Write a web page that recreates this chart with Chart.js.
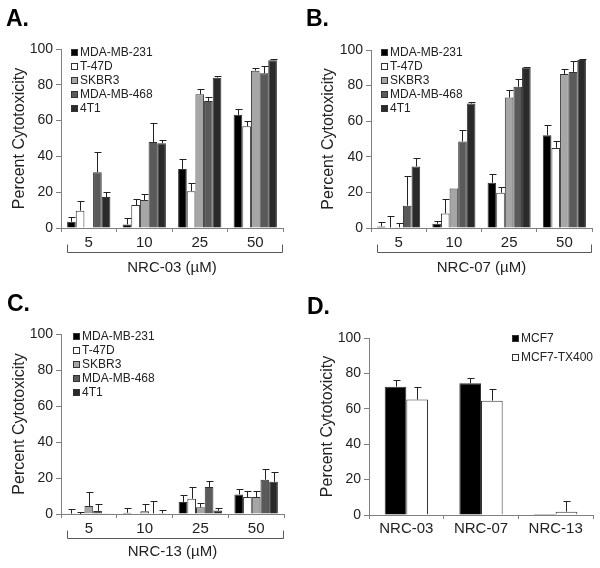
<!DOCTYPE html>
<html>
<head>
<meta charset="utf-8">
<script src="https://cdn.jsdelivr.net/npm/chart.js@4.4.1/dist/chart.umd.min.js"></script>
<style>
body { margin: 0; background: #fff; }
#wrap { position: relative; width: 600px; height: 568px; }
canvas { position: absolute; }
.tag { position: absolute; font: bold 23px "Liberation Sans", Arial, sans-serif; line-height: 1; color: #000; }
</style>
</head>
<body>
<div id="wrap">
  <canvas id="chartA" width="300" height="284" style="left:0;top:0"></canvas>
  <canvas id="chartB" width="300" height="284" style="left:300px;top:0"></canvas>
  <canvas id="chartC" width="300" height="284" style="left:0;top:284px"></canvas>
  <canvas id="chartD" width="300" height="284" style="left:300px;top:284px"></canvas>
  <div class="tag" style="left:6px;top:7px">A.</div>
  <div class="tag" style="left:306px;top:7px">B.</div>
  <div class="tag" style="left:7px;top:292px">C.</div>
  <div class="tag" style="left:307px;top:295px">D.</div>
</div>
<script>
const doses = ['5', '10', '25', '50'];
const cellLines = ['MDA-MB-231', 'T-47D', 'SKBR3', 'MDA-MB-468', '4T1'];
const lineColors = ['#000000', '#ffffff', '#a6a6a6', '#5a5a5a', '#2a2a2a'];
const yTicks = [0, 20, 40, 60, 80, 100];

// one row per cell line, one value per dose
const nrc03Mean = [
  [3.5, 2, 33, 63.2],
  [9.7, 12.8, 20.6, 56.9],
  [0, 15.6, 74.7, 87.9],
  [31.2, 48.1, 71, 86.4],
  [17.3, 47.4, 84, 93.7]
];
const nrc03Err = [
  [2.5, 3.4, 5.8, 3.2],
  [5.5, 3.6, 4.7, 2.6],
  [0, 3.2, 3.2, 1.7],
  [11.2, 10.3, 2.2, 3.9],
  [2.7, 1.5, 0.8, 0.5]
];

const nrc07Mean = [
  [0.9, 2.4, 25.4, 52.1],
  [0.3, 8.2, 19.8, 45],
  [0.4, 22.2, 73.3, 86.5],
  [12.5, 48.6, 79.3, 87.7],
  [34.6, 69.9, 90.1, 94.4]
];
const nrc07Err = [
  [2.3, 1.5, 4.9, 5.8],
  [6.6, 8.2, 3, 3.8],
  [2.2, 0, 4.1, 2.7],
  [16.5, 6.7, 4.6, 6.1],
  [4.7, 1.1, 0.6, 0.4]
];

const nrc13Mean = [
  [0.2, 0.7, 6.7, 10.9],
  [0, 0, 8.5, 9.4],
  [4.4, 1.5, 3.7, 9.4],
  [1.7, 0.3, 15, 19],
  [0.4, 0.4, 1.9, 17.9]
];
const nrc13Err = [
  [2.6, 2.6, 3.9, 3.2],
  [1.1, 0, 6.5, 3.2],
  [7.8, 4.1, 2.4, 3.2],
  [3.9, 7, 3.3, 6],
  [0, 1.6, 1.2, 5.6]
];

const compounds = ['NRC-03', 'NRC-07', 'NRC-13'];
const mcfLines = ['MCF7', 'MCF7-TX400'];
const mcfColors = ['#000000', '#ffffff'];
const mcf7Mean = [72.5, 74.4, 0.6];
const mcf7Err = [3.8, 3.2, 0];
const tx400Mean = [65.2, 64.6, 1.9];
const tx400Err = [7.3, 6.6, 5.8];

const FONT = '"Liberation Sans", Arial, sans-serif';
const AXIS = '#808080';
const INK = '#222';

// upper error bars only, like the original figure
const errBars = {
  id: 'errBars',
  afterDatasetsDraw(chart) {
    const ctx = chart.ctx;
    const y = chart.scales.y;
    ctx.save();
    ctx.strokeStyle = INK;
    ctx.lineWidth = 1;
    chart.data.datasets.forEach((ds, i) => {
      chart.getDatasetMeta(i).data.forEach((bar, j) => {
        const e = ds.errors[j];
        if (!e) return;
        const x = Math.round(bar.x) + 0.5;
        const top = Math.round(y.getPixelForValue(ds.data[j] + e)) + 0.5;
        ctx.beginPath();
        ctx.moveTo(x, bar.y);
        ctx.lineTo(x, top);
        ctx.moveTo(x - 3, top);
        ctx.lineTo(x + 4, top);
        ctx.stroke();
      });
    });
    ctx.restore();
  }
};

const boxLegend = {
  id: 'boxLegend',
  afterDraw(chart, args, opts) {
    const ctx = chart.ctx;
    ctx.save();
    ctx.font = '12px ' + FONT;
    ctx.textBaseline = 'middle';
    chart.data.datasets.forEach((ds, i) => {
      const y = Math.round(opts.y + i * opts.step);
      ctx.fillStyle = ds.backgroundColor;
      ctx.fillRect(opts.x, y - 3, 7, 7);
      ctx.strokeStyle = '#333';
      ctx.lineWidth = 1;
      ctx.strokeRect(opts.x + 0.5, y - 2.5, 6, 6);
      ctx.fillStyle = INK;
      ctx.fillText(ds.label, opts.x + 9, y + 1);
    });
    ctx.restore();
  }
};

// bracket under the dose labels
const bracket = {
  id: 'bracket',
  afterDraw(chart, args, opts) {
    const a = chart.chartArea;
    const ctx = chart.ctx;
    const y = Math.round(a.bottom + opts.dy) + 0.5;
    const x1 = Math.round(a.left + 6) + 0.5;
    const x2 = Math.round(a.right - 1) + 0.5;
    ctx.save();
    ctx.strokeStyle = '#5a5a5a';
    ctx.lineWidth = 1;
    ctx.beginPath();
    ctx.moveTo(x1, y - 8);
    ctx.lineTo(x1, y);
    ctx.lineTo(x2, y);
    ctx.lineTo(x2, y - 8);
    ctx.stroke();
    ctx.restore();
  }
};

function panel(id, p) {
  const plugins = [errBars, boxLegend];
  if (p.title) plugins.push(bracket);
  return new Chart(document.getElementById(id), {
    type: 'bar',
    data: {
      labels: p.labels,
      datasets: p.names.map((name, i) => ({
        label: name,
        data: p.means[i],
        errors: p.errs[i],
        backgroundColor: p.colors[i],
        borderColor: '#333',
        borderWidth: 1,
        categoryPercentage: p.cat,
        barPercentage: 1
      }))
    },
    options: {
      responsive: false,
      animation: false,
      layout: { padding: { left: 0, top: p.top, right: p.right, bottom: 0 } },
      plugins: {
        legend: { display: false },
        tooltip: { enabled: false },
        boxLegend: { x: p.legX, y: p.legY, step: p.legStep },
        bracket: { dy: p.brY || 24 }
      },
      scales: {
        x: {
          afterFit: s => { s.height = p.xh; },
          grid: { display: true, drawOnChartArea: false, tickLength: 4, color: AXIS, offset: true },
          border: { color: AXIS, width: 1 },
          ticks: { color: INK, padding: p.tickPad, font: { family: FONT, size: 15 } },
          title: {
            display: !!p.title,
            text: p.title,
            color: INK,
            font: { family: FONT, size: 15 },
            padding: { top: 0, bottom: 7 }
          }
        },
        y: {
          min: 0,
          max: 100,
          afterFit: s => { s.width = p.left; },
          afterBuildTicks: s => { s.ticks = yTicks.map(v => ({ value: v })); },
          grid: { drawOnChartArea: false, tickLength: 5, color: AXIS },
          border: { color: AXIS, width: 1 },
          ticks: { color: INK, padding: 3, font: { family: FONT, size: 14 } },
          title: {
            display: true,
            text: 'Percent Cytotoxicity',
            color: INK,
            font: { family: FONT, size: 16 },
            padding: { top: p.yTitleX - 9.6, bottom: 0 }
          }
        }
      }
    },
    plugins: plugins
  });
}

panel('chartA', {
  labels: doses, names: cellLines, colors: lineColors, means: nrc03Mean, errs: nrc03Err,
  cat: 0.78, left: 61, right: 17, top: 49, xh: 56, tickPad: 2, yTitleX: 20,
  legX: 71, legY: 52, legStep: 14, title: 'NRC-03 (µM)'
});
panel('chartB', {
  labels: doses, names: cellLines, colors: lineColors, means: nrc07Mean, errs: nrc07Err,
  cat: 0.78, left: 71, right: 8, top: 50, xh: 56, tickPad: 2, yTitleX: 29,
  legX: 81, legY: 52, legStep: 14, title: 'NRC-07 (µM)'
});
panel('chartC', {
  labels: doses, names: cellLines, colors: lineColors, means: nrc13Mean, errs: nrc13Err,
  cat: 0.78, left: 61, right: 16, top: 50, xh: 54, tickPad: 2, yTitleX: 20,
  legX: 73, legY: 52, legStep: 14, title: 'NRC-13 (µM)'
});
panel('chartD', {
  labels: compounds, names: mcfLines, colors: mcfColors,
  means: [mcf7Mean, tx400Mean], errs: [mcf7Err, tx400Err],
  cat: 0.58, left: 69, right: 7, top: 54, xh: 53, tickPad: 1, yTitleX: 28,
  legX: 212, legY: 54, legStep: 19, title: ''
});
</script>
</body>
</html>
